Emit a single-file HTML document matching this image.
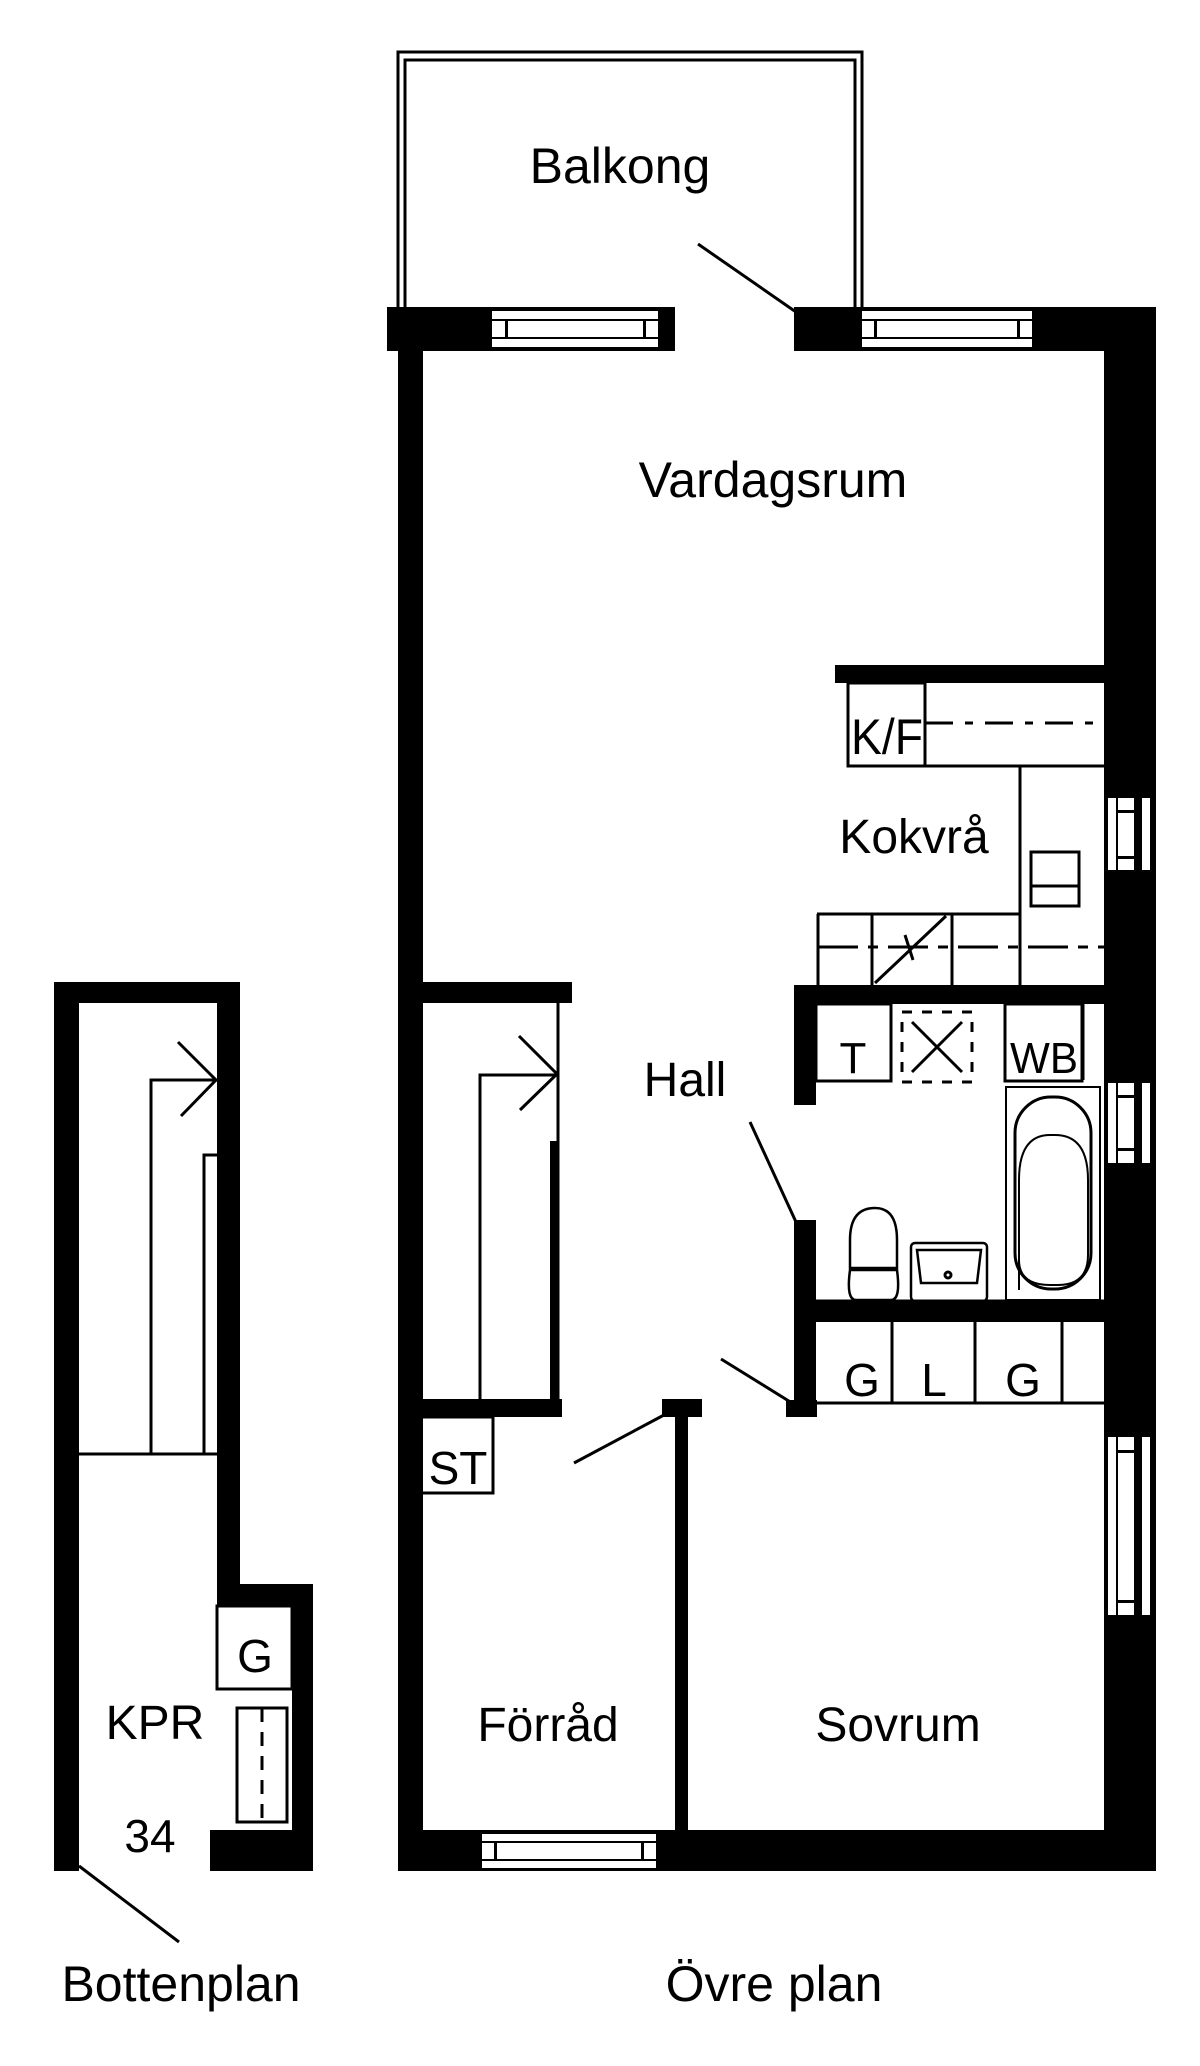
<!DOCTYPE html>
<html><head><meta charset="utf-8"><style>
html,body{margin:0;padding:0;background:#fff;}
svg{display:block;}
text{font-family:"Liberation Sans",Arial,sans-serif;fill:#000;}
</style></head><body>
<svg width="1200" height="2066" viewBox="0 0 1200 2066" xmlns="http://www.w3.org/2000/svg">
<rect width="1200" height="2066" fill="#fff"/>
<!-- Balcony -->
<path d="M398 308 L398 52 L862 52 L862 308" fill="none" stroke="#000" stroke-width="3"/>
<path d="M405 308 L405 60 L855 60 L855 308" fill="none" stroke="#000" stroke-width="3"/>
<!-- Top walls -->
<rect x="387" y="307" width="288" height="44" fill="#000"/>
<rect x="794" y="307" width="362" height="44" fill="#000"/>
<g fill="#fff">
<rect x="492" y="311" width="166" height="8"/><rect x="492" y="339" width="166" height="8"/>
<rect x="492" y="321" width="166" height="16"/>
<rect x="862" y="311" width="170" height="8"/><rect x="862" y="339" width="170" height="8"/>
<rect x="862" y="321" width="170" height="16"/>
</g>
<rect x="505" y="321" width="3" height="16"/><rect x="643" y="321" width="3" height="16"/>
<rect x="874" y="321" width="3" height="16"/><rect x="1017" y="321" width="3" height="16"/>
<line x1="698" y1="244" x2="796" y2="312" stroke="#000" stroke-width="3"/>
<rect x="398" y="307" width="25" height="1564" fill="#000"/>
<rect x="1104" y="307" width="52" height="1564" fill="#000"/>
<g fill="#fff">
<rect x="1108" y="798" width="8" height="72"/><rect x="1142" y="798" width="8" height="72"/><rect x="1118" y="798" width="16" height="72"/>
<rect x="1108" y="1083" width="8" height="80"/><rect x="1142" y="1083" width="8" height="80"/><rect x="1118" y="1083" width="16" height="80"/>
<rect x="1108" y="1437" width="8" height="178"/><rect x="1142" y="1437" width="8" height="178"/><rect x="1118" y="1437" width="16" height="178"/>
</g>
<rect x="1118" y="810" width="16" height="3"/><rect x="1118" y="856" width="16" height="3"/>
<rect x="1118" y="1095" width="16" height="3"/><rect x="1118" y="1148" width="16" height="3"/>
<rect x="1118" y="1450" width="16" height="3"/><rect x="1118" y="1600" width="16" height="3"/>
<rect x="398" y="1830" width="758" height="41" fill="#000"/>
<g fill="#fff"><rect x="482" y="1834" width="174" height="7"/><rect x="482" y="1861" width="174" height="7"/><rect x="482" y="1843" width="174" height="16"/></g>
<rect x="494" y="1843" width="3" height="16"/><rect x="641" y="1843" width="3" height="16"/>
<!-- Kitchen -->
<rect x="835" y="665" width="270" height="18" fill="#000"/>
<g fill="none" stroke="#000" stroke-width="3">
<rect x="848" y="683" width="77" height="83"/>
<line x1="848" y1="766" x2="1104" y2="766"/>
<line x1="925" y1="723" x2="1104" y2="723" stroke-dasharray="28,12,8,12"/>
<line x1="1020" y1="766" x2="1020" y2="985"/>
<rect x="1031" y="852" width="48" height="54"/>
<line x1="1031" y1="886" x2="1079" y2="886"/>
<line x1="817" y1="914" x2="1020" y2="914"/>
<line x1="818" y1="914" x2="818" y2="985"/>
<line x1="872" y1="914" x2="872" y2="985"/>
<line x1="952" y1="914" x2="952" y2="985"/>
<line x1="818" y1="947" x2="1104" y2="947" stroke-dasharray="40,10,10,10"/>
<line x1="875" y1="983" x2="946" y2="916"/>
<line x1="905" y1="935" x2="913" y2="960"/>
</g>
<text x="851" y="754" font-size="50" textLength="72" lengthAdjust="spacingAndGlyphs">K/F</text>
<text x="914" y="853" font-size="48" text-anchor="middle">Kokvrå</text>
<text x="773" y="497" font-size="50" text-anchor="middle">Vardagsrum</text>
<text x="620" y="183" font-size="50" text-anchor="middle">Balkong</text>
<rect x="794" y="985" width="312" height="19" fill="#000"/>
<rect x="794" y="985" width="22" height="120" fill="#000"/>
<rect x="794" y="1220" width="22" height="197" fill="#000"/>
<rect x="786" y="1400" width="31" height="17" fill="#000"/>
<line x1="750" y1="1122" x2="796" y2="1222" stroke="#000" stroke-width="3"/>
<g fill="none" stroke="#000" stroke-width="3">
<rect x="816" y="1004" width="75" height="77"/>
<rect x="1005" y="1004" width="77" height="77"/>
<line x1="1083" y1="1004" x2="1083" y2="1080"/>
<rect x="902" y="1012" width="70" height="70" stroke-dasharray="10,10"/>
<line x1="912" y1="1022" x2="962" y2="1072"/><line x1="962" y1="1022" x2="912" y2="1072"/>
<rect x="1006" y="1087" width="94" height="213" stroke-width="2"/>
<rect x="1015" y="1097" width="76" height="192" rx="36"/>
<path d="M1019 1290 L1019 1180 Q1019 1135 1050 1135 L1055 1135 Q1088 1135 1088 1180 L1088 1255 Q1088 1285 1058 1285 L1050 1285 Q1019 1285 1019 1260Z" stroke-width="2"/>
<path d="M850 1268 L850 1240 Q850 1208 875 1208 Q897 1208 897 1240 L897 1268 Z M850 1270 L897 1270 Q901 1300 891 1300 L856 1300 Q846 1300 850 1270Z" stroke-width="2.5"/>
<rect x="911" y="1243" width="76" height="58" rx="4" stroke-width="2.5"/>
<path d="M917 1250 L981 1250 L977 1283 L921 1283 Z" stroke-width="2.5"/>
<circle cx="948" cy="1275" r="3"/>
<line x1="816" y1="1301" x2="1104" y2="1301"/>
</g>
<text x="853" y="1073" font-size="44" text-anchor="middle">T</text>
<text x="1010" y="1073" font-size="44" textLength="68" lengthAdjust="spacingAndGlyphs">WB</text>
<rect x="794" y="1301" width="312" height="21" fill="#000"/>
<g fill="none" stroke="#000" stroke-width="3">
<line x1="817" y1="1403" x2="1104" y2="1403"/>
<line x1="892" y1="1322" x2="892" y2="1403"/>
<line x1="975" y1="1322" x2="975" y2="1403"/>
<line x1="1062" y1="1322" x2="1062" y2="1403"/>
</g>
<text x="862" y="1396" font-size="46" text-anchor="middle">G</text>
<text x="934" y="1396" font-size="46" text-anchor="middle">L</text>
<text x="1023" y="1396" font-size="46" text-anchor="middle">G</text>
<line x1="721" y1="1359" x2="792" y2="1403" stroke="#000" stroke-width="3"/>
<text x="685" y="1096" font-size="48" text-anchor="middle">Hall</text>
<rect x="398" y="982" width="174" height="21" fill="#000"/>
<rect x="398" y="1399" width="164" height="18" fill="#000"/>
<g fill="none" stroke="#000" stroke-width="3">
<line x1="558" y1="1003" x2="558" y2="1400"/>
<polyline points="480,1400 480,1075 558,1075"/>
<polyline points="519,1036 557,1074 520,1110"/>
<rect x="421" y="1417" width="72" height="76"/>
<line x1="574" y1="1463" x2="664" y2="1415"/>
</g>
<rect x="550" y="1141" width="9" height="260" fill="#000"/>
<text x="458" y="1484" font-size="46" text-anchor="middle">ST</text>
<rect x="662" y="1399" width="40" height="18" fill="#000"/>
<rect x="675" y="1399" width="13" height="435" fill="#000"/>
<text x="548" y="1741" font-size="48" text-anchor="middle">Förråd</text>
<text x="898" y="1741" font-size="48" text-anchor="middle">Sovrum</text>
<rect x="54" y="982" width="186" height="21" fill="#000"/>
<rect x="54" y="982" width="25" height="889" fill="#000"/>
<rect x="217" y="982" width="23" height="624" fill="#000"/>
<rect x="217" y="1584" width="96" height="22" fill="#000"/>
<rect x="292" y="1584" width="21" height="287" fill="#000"/>
<rect x="210" y="1830" width="103" height="41" fill="#000"/>
<g fill="none" stroke="#000" stroke-width="3">
<polyline points="151,1454 151,1080 217,1080"/>
<polyline points="178,1042 216,1080 181,1116"/>
<polyline points="204,1454 204,1155 217,1155"/>
<line x1="79" y1="1454" x2="217" y2="1454"/>
<rect x="217" y="1606" width="75" height="83"/>
<rect x="237" y="1708" width="50" height="114"/>
<line x1="262" y1="1708" x2="262" y2="1822" stroke-dasharray="14,10"/>
<line x1="79" y1="1866" x2="179" y2="1942"/>
</g>
<text x="255" y="1672" font-size="46" text-anchor="middle">G</text>
<text x="155" y="1739" font-size="48" text-anchor="middle">KPR</text>
<text x="150" y="1852" font-size="46" text-anchor="middle">34</text>
<text x="181" y="2001" font-size="50" text-anchor="middle">Bottenplan</text>
<text x="774" y="2001" font-size="50" text-anchor="middle">Övre plan</text>
</svg>
</body></html>
